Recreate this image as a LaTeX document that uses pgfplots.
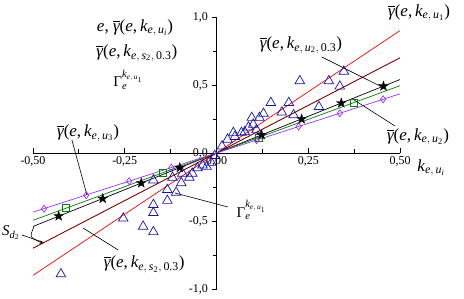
\documentclass[border=0pt]{standalone}
\usepackage{fontspec}
\setmainfont{Liberation Serif}
\usepackage{amsmath}
\usepackage{pgfplots}
\pgfplotsset{compat=1.18}
\definecolor{vio}{RGB}{150,50,255}
\definecolor{dred}{RGB}{128,0,0}
\definecolor{grn}{RGB}{0,128,0}
\definecolor{tblue}{RGB}{20,20,170}
\newcommand{\I}[1]{\text{\itshape #1}}
\newcommand{\T}[1]{\text{#1}}
\newcommand{\gbar}{\overline{\I{γ}}}
\newcommand{\lbl}[1]{$\gbar\T{(}\I{e}\T{,\,}\I{k}_{#1}\T{)}$}
\pgfdeclareplotmark{fstar}{%
 \pgfpathmoveto{\pgfqpoint{0pt}{\pgfplotmarksize}}%
 \pgfpathlineto{\pgfqpoint{-0.225\pgfplotmarksize}{0.309\pgfplotmarksize}}%
 \pgfpathlineto{\pgfqpoint{-0.951\pgfplotmarksize}{0.309\pgfplotmarksize}}%
 \pgfpathlineto{\pgfqpoint{-0.363\pgfplotmarksize}{-0.118\pgfplotmarksize}}%
 \pgfpathlineto{\pgfqpoint{-0.588\pgfplotmarksize}{-0.809\pgfplotmarksize}}%
 \pgfpathlineto{\pgfqpoint{0pt}{-0.382\pgfplotmarksize}}%
 \pgfpathlineto{\pgfqpoint{0.588\pgfplotmarksize}{-0.809\pgfplotmarksize}}%
 \pgfpathlineto{\pgfqpoint{0.363\pgfplotmarksize}{-0.118\pgfplotmarksize}}%
 \pgfpathlineto{\pgfqpoint{0.951\pgfplotmarksize}{0.309\pgfplotmarksize}}%
 \pgfpathlineto{\pgfqpoint{0.225\pgfplotmarksize}{0.309\pgfplotmarksize}}%
 \pgfpathclose\pgfusepathqfillstroke}
\begin{document}
\begin{tikzpicture}
\useasboundingbox (-33pt,-9pt) rectangle (431pt,289pt);
\begin{axis}[
  at={(0pt,0pt)}, anchor=south west,
  width=367pt, height=272pt, scale only axis,
  xmin=-0.5, xmax=0.5, ymin=-1, ymax=1,
  axis lines=middle, axis line style={-, line width=0.8pt},
  xtick={-0.5,-0.25,0,0.25,0.5}, ytick={-1,-0.5,0,0.5,1},
  minor xtick={-0.375,-0.125,0.125,0.375}, minor ytick={-0.75,-0.25,0.25,0.75},
  hide obscured x ticks=false, hide obscured y ticks=false,
  xtick align=inside, ytick align=outside,
  major tick length=5pt, minor tick length=4pt,
  tick style={line width=0.8pt, black},
  ticklabel style={font=\fontsize{12}{14}\selectfont},
  /pgf/number format/.cd, use comma, fixed, fixed zerofill, assume math mode=true,
  /pgfplots/.cd,
  xticklabel style={/pgf/number format/precision=2},
  yticklabel style={/pgf/number format/precision=1},
  clip=false,
]
% lines
\addplot[red, line width=0.7pt] coordinates {(-0.5,-0.9) (0.5,0.9)};
\addplot[dred, line width=0.9pt] coordinates {(-0.5,-0.7) (0.5,0.7)};
\addplot[black, line width=0.7pt] coordinates {(-0.5,-0.54) (0.5,0.54)};
\addplot[grn, line width=0.7pt] coordinates {(-0.5,-0.495) (0.5,0.495)};
\addplot[vio, line width=0.7pt] coordinates {(-0.5,-0.435) (0.5,0.435)};
% triangles
\addplot[only marks, mark=triangle, mark size=5.5pt, tblue, mark options={line width=0.7pt}] coordinates {
(0.227,0.53) (0.306,0.53) (0.347,0.60) (0.336,0.49) (0.148,0.37) (0.197,0.37)
(0.279,0.34) (0.178,0.30) (0.21,0.28) (0.128,0.29) (0.117,0.26) (0.096,0.26)
(0.10,0.21) (0.087,0.19) (0.077,0.155) (0.109,0.17) (0.046,0.15) (0.068,0.15)
(0.03,0.10) (0.015,0.05) (0.05,0.12)
(-0.424,-0.89) (-0.254,-0.48) (-0.20,-0.54) (-0.172,-0.58) (-0.172,-0.38) (-0.172,-0.44)
(-0.172,-0.20) (-0.134,-0.35) (-0.134,-0.27) (-0.11,-0.29) (-0.12,-0.18) (-0.096,-0.22)
(-0.074,-0.18) (-0.093,-0.15) (-0.066,-0.15) (-0.052,-0.11) (-0.027,-0.10) (-0.014,-0.07)
(-0.038,-0.09) (-0.005,-0.02)
};
% diamonds
\addplot[only marks, mark=diamond, mark size=3.5pt, vio, mark options={line width=0.7pt}] coordinates {
(-0.47,-0.41) (-0.355,-0.31) (-0.238,-0.207) (-0.123,-0.107)
(0.109,0.095) (0.224,0.195) (0.336,0.292) (0.454,0.395)
};
% squares
\addplot[only marks, mark=square, mark size=3.5pt, grn, mark options={line width=0.7pt}] coordinates {
(-0.41,-0.406) (-0.147,-0.146) (0.115,0.114) (0.375,0.371)
};
% stars
\addplot[only marks, mark=fstar, mark size=5pt, black, mark options={fill=black}] coordinates {
(-0.43,-0.464) (-0.31,-0.335) (-0.205,-0.221) (-0.10,-0.108)
(0.123,0.133) (0.232,0.25) (0.34,0.367) (0.455,0.491)
};
% labels
\begin{scope}[every node/.style={font=\fontsize{17}{19}\selectfont, inner sep=0pt}]
\node at (axis cs:0.552,1.03) {\lbl{\I{e},\,\I{u}_{\T{1}}}};
\node at (axis cs:0.23,0.794) {\lbl{\I{e},\,\I{u}_{\T{2}},\,\T{0.3}}};
\node at (axis cs:0.549,0.118) {\lbl{\I{e},\,\I{u}_{\T{2}}}};
\node at (axis cs:0.585,-0.11) {$\I{k}_{\I{e},\,\I{u}_{\I{i}}}$};
\node at (axis cs:-0.222,0.92) {\I{e}, \lbl{\I{e},\,\I{u}_{\I{i}}}};
\node at (axis cs:-0.217,0.735) {\lbl{\I{e},\,\I{s}_{\T{2}},\,\T{0.3}}};
\node[font=\fontsize{15}{17}\selectfont] at (axis cs:-0.241,0.537) {$\T{Γ}_{\I{e}}^{\I{k}_{\I{e},\,\I{u}_{\T{1}}}}$};
\node at (axis cs:-0.35,0.147) {\lbl{\I{e},\,\I{u}_{\T{3}}}};
\node[font=\fontsize{15}{17}\selectfont] at (axis cs:-0.56,-0.588) {$\I{S}_{\I{d}_{\T{2}}}$};
\node at (axis cs:-0.197,-0.82) {\lbl{\I{e},\,\I{s}_{\T{2}},\,\T{0.3}}};
\node[font=\fontsize{15}{17}\selectfont] at (axis cs:0.095,-0.42) {$\T{Γ}_{\I{e}}^{\I{k}_{\I{e},\,\I{u}_{\T{1}}}}$};
\end{scope}
% leader lines
\draw[black, line width=0.6pt] (axis cs:-0.394,0.096) -- (axis cs:-0.353,-0.309);
\draw[black, line width=0.6pt] (axis cs:-0.268,-0.713) -- (axis cs:-0.364,-0.551);
\draw[black, line width=0.6pt] (axis cs:0.031,-0.397) -- (axis cs:-0.113,-0.294);
\draw[black, line width=0.6pt] (axis cs:0.287,0.706) -- (axis cs:0.451,0.485);
\draw[black, line width=0.6pt] (axis cs:0.486,0.199) -- (axis cs:0.375,0.39);
\draw[black, line width=0.6pt] (axis cs:-0.53,-0.603) -- (axis cs:-0.474,-0.655);
\draw[black, line width=0.6pt, -stealth] (axis cs:-0.497,-0.54) .. controls (axis cs:-0.51,-0.62) .. (axis cs:-0.472,-0.665);
\end{axis}
\end{tikzpicture}
\end{document}
